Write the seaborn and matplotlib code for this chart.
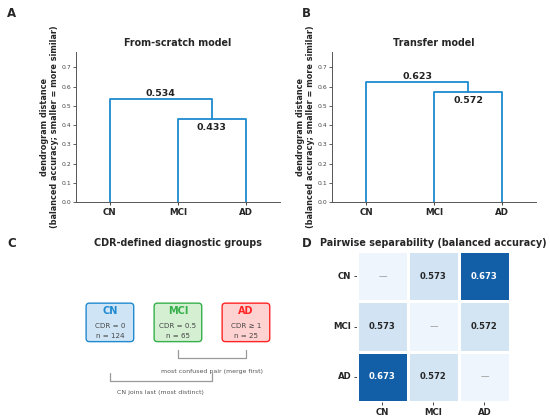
import numpy as np
import pandas as pd
import matplotlib
matplotlib.use("Agg")
import matplotlib.pyplot as plt
from matplotlib.patches import FancyBboxPatch
import seaborn as sns

# data
groups = ["CN", "MCI", "AD"]
scratch_merges = [0.433, 0.534]    # MCI+AD merge first, CN joins last
transfer_merges = [0.572, 0.623]
group_cdr = ["CDR = 0", "CDR = 0.5", "CDR \u2265 1"]
group_n = [124, 65, 25]
pairwise_bacc = [[np.nan, 0.573, 0.673],
                 [0.573, np.nan, 0.572],
                 [0.673, 0.572, np.nan]]

sns.set_style("ticks")
plt.rcParams["font.family"] = ["DejaVu Sans"]

LINK = "#1f8ad0"
box_edge = ["#1f8ad0", "#35b04a", "#ff2424"]
box_face = ["#cfe5f6", "#d4efd2", "#ffd2d2"]

fig = plt.figure(figsize=(5.5, 4.18), dpi=100)
axA = fig.add_axes([0.138, 0.5167, 0.371, 0.359])
axB = fig.add_axes([0.6036, 0.5167, 0.371, 0.359])
axC = fig.add_axes([0.138, 0.0383, 0.371, 0.361])
axD = fig.add_axes([0.649, 0.0383, 0.278, 0.361])


def draw_dendro(ax, merges, title):
    pos = np.arange(len(groups))
    h1, h2 = merges
    mid = (pos[1] + pos[2]) / 2
    ax.plot([pos[1], pos[1], pos[2], pos[2]], [0, h1, h1, 0], color=LINK, lw=1.3)
    ax.plot([pos[0], pos[0], mid, mid], [0, h2, h2, h1], color=LINK, lw=1.3)
    ax.text((pos[0] + mid) / 2, h2 + 0.008, f"{h2:.3f}", ha="center", va="bottom",
            fontsize=6.8, fontweight="bold", color="#222")
    ax.text(mid, h1 - 0.022, f"{h1:.3f}", ha="center", va="top",
            fontsize=6.8, fontweight="bold", color="#222")
    ax.set_xlim(-0.5, 2.5)
    ax.set_ylim(0, 0.78)
    ax.set_yticks(np.arange(0, 0.75, 0.1))
    ax.set_yticklabels([f"{v:.1f}" for v in np.arange(0, 0.75, 0.1)])
    ax.set_xticks(pos)
    ax.set_xticklabels(groups, fontsize=6.3, fontweight="bold")
    ax.tick_params(axis="y", labelsize=4.4, length=2, width=0.6, pad=1.5, colors="#444")
    ax.tick_params(axis="x", length=2, width=0.6, pad=2)
    ax.set_title(title, fontsize=6.9, fontweight="bold", pad=4)
    ax.set_ylabel("dendrogram distance\n(balanced accuracy; smaller = more similar)",
                  fontsize=5.9, fontweight="bold", labelpad=1.5)
    sns.despine(ax=ax)
    for s in ["left", "bottom"]:
        ax.spines[s].set_color("#555")
        ax.spines[s].set_linewidth(0.7)


draw_dendro(axA, scratch_merges, "From-scratch model")
draw_dendro(axB, transfer_merges, "Transfer model")

# panel C: group boxes and brackets
axC.set_xlim(-0.5, 2.5)
axC.set_ylim(0, 1)
axC.axis("off")
axC.set_title("CDR-defined diagnostic groups", fontsize=6.9, fontweight="bold", pad=4)
for i, g in enumerate(groups):
    box = FancyBboxPatch((i - 0.35, 0.40), 0.70, 0.255,
                         boxstyle="round,pad=0,rounding_size=0.05",
                         mutation_aspect=0.42, facecolor=box_face[i],
                         edgecolor=box_edge[i], lw=1.0)
    axC.add_patch(box)
    axC.text(i, 0.603, g, ha="center", va="center", fontsize=7,
             fontweight="bold", color=box_edge[i])
    axC.text(i, 0.503, group_cdr[i], ha="center", va="center", fontsize=5.1, color="#444")
    axC.text(i, 0.437, f"n = {group_n[i]}", ha="center", va="center", fontsize=5.1, color="#444")

brk = "#999999"
axC.plot([1, 1, 2, 2], [0.344, 0.291, 0.291, 0.344], color=brk, lw=0.9)
axC.text(1.5, 0.205, "most confused pair (merge first)", ha="center", va="center",
         fontsize=4.5, color="#555")
axC.plot([0, 0, 1.5, 1.5], [0.192, 0.139, 0.139, 0.192], color=brk, lw=0.9)
axC.text(0.75, 0.066, "CN joins last (most distinct)", ha="center", va="center",
         fontsize=4.5, color="#555")

# panel D: pairwise heatmap
mat = pd.DataFrame(pairwise_bacc, index=groups, columns=groups)
annot = mat.map(lambda v: "\u2014" if np.isnan(v) else f"{v:.3f}")
shade = mat.fillna(0.551)
sns.heatmap(shade, ax=axD, cmap="Blues", vmin=0.543, vmax=0.702, cbar=False,
            annot=annot, fmt="", linewidths=1, linecolor="white",
            annot_kws={"fontsize": 6.1, "fontweight": "bold"})
for t, v in zip(axD.texts, mat.values.ravel()):
    if np.isnan(v):
        t.set_color("#999999")
        t.set_fontweight("normal")
axD.set_title("Pairwise separability (balanced accuracy)", fontsize=6.9,
              fontweight="bold", pad=4)
axD.set_xticklabels(groups, fontsize=6.2, fontweight="bold", rotation=0)
axD.set_yticklabels(groups, fontsize=6.2, fontweight="bold", rotation=0)
axD.tick_params(length=2, width=0.6, pad=2)

for lab, x, y in [("A", 0.013, 0.984), ("B", 0.549, 0.984), ("C", 0.013, 0.434), ("D", 0.549, 0.434)]:
    fig.text(x, y, lab, fontsize=8.5, fontweight="bold", va="top", ha="left")

fig.savefig("out.png", dpi=100)
